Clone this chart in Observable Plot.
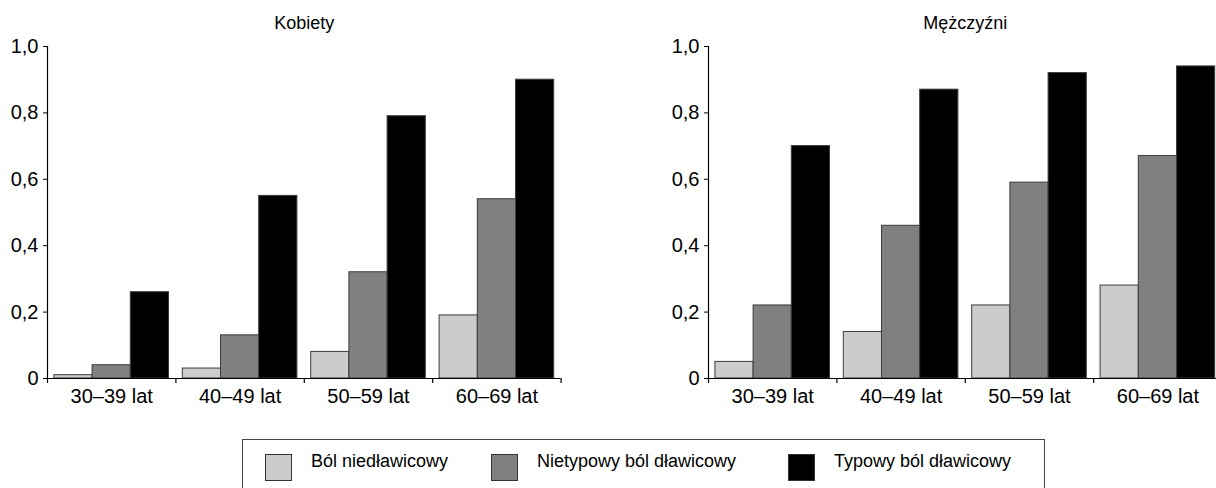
<!DOCTYPE html>
<html><head><meta charset="utf-8">
<script src="https://cdn.jsdelivr.net/npm/d3@7"></script>
<script src="https://cdn.jsdelivr.net/npm/@observablehq/plot@0.6"></script>
<style>
  html,body{margin:0;padding:0;background:#fff;}
  body{width:1216px;height:488px;overflow:hidden;position:relative;
       font-family:"Liberation Sans",Arial,sans-serif;}
  .panel{position:absolute;top:0;width:600px;}
  .panel svg{max-width:none !important;}
  #legend{position:absolute;left:242px;top:439px;width:803px;height:70px;box-sizing:border-box;
          border:1.5px solid #444;display:flex;align-items:flex-start;padding-left:22px;padding-top:14px;}
  .item{display:flex;align-items:flex-start;flex-shrink:0;white-space:nowrap;}
  .sw{width:25px;height:25px;border:1px solid #333;margin-right:19px;flex-shrink:0;}
  .lab{font-size:18px;color:#000;margin-top:-3px;}
</style></head><body>
<div id="left" class="panel" style="left:0px"></div>
<div id="right" class="panel" style="left:661px"></div>
<div id="legend"></div>
<script>
// ---- data ----
const ages = ["30–39 lat", "40–49 lat", "50–59 lat", "60–69 lat"];
const series = ["Ból niedławicowy", "Nietypowy ból dławicowy", "Typowy ból dławicowy"];
const colors = ["#cccccc", "#808080", "#000000"];
const yTicks = [0, 0.2, 0.4, 0.6, 0.8, 1.0];
const panelTitles = ["Kobiety", "Mężczyźni"];

const kobietyNiedlawicowy = [0.01, 0.03, 0.08, 0.19];
const kobietyNietypowy    = [0.04, 0.13, 0.32, 0.54];
const kobietyTypowy       = [0.26, 0.55, 0.79, 0.90];

const mezczyzniNiedlawicowy = [0.05, 0.14, 0.22, 0.28];
const mezczyzniNietypowy    = [0.22, 0.46, 0.59, 0.67];
const mezczyzniTypowy       = [0.70, 0.87, 0.92, 0.94];

// ---- layout ----
const W = 600, H = 420, ML = 47, MT = 46, MB = 42;
const STEP = 128.4;
const MR = W - ML - ages.length * STEP;
const BW = 38.2;
const GAP = (STEP - 3 * BW) / 2;
const FONT = '"Liberation Sans",Arial,sans-serif';
const legendItemWidths = ["226px", "297px", "auto"];

const fmt = d => d === 0 ? "0" : d.toFixed(1).replace(".", ",");

function panel(title, vals) {
  const data = ages.flatMap((a, i) => series.map((s, j) => ({age: a, series: s, value: vals[j][i]})));
  return Plot.plot({
    width: W, height: H,
    marginLeft: ML, marginRight: MR, marginTop: MT, marginBottom: MB,
    style: {fontFamily: FONT, fontSize: "20px", color: "#000", background: "transparent", overflow: "visible"},
    x: {domain: ages, padding: 0, round: false, label: null},
    y: {domain: [0, 1], label: null},
    marks: [
      ...series.map((s, j) => Plot.barY(data.filter(d => d.series === s), {
        x: "age", y: "value", fill: colors[j], stroke: "#3c3c3c", strokeWidth: 1,
        insetLeft: GAP + j * BW, insetRight: GAP + (2 - j) * BW
      })),
      Plot.ruleY([0], {stroke: "#000", strokeWidth: 1.2}),
      Plot.ruleX([ages[0]], {x: d => d, y1: 0, y2: 1, dx: -STEP / 2, stroke: "#000", strokeWidth: 1.2}),
      Plot.ruleX(ages, {x: d => d, y1: 0, y2: 0, insetBottom: -5, dx: -STEP / 2, stroke: "#000", strokeWidth: 1.2}),
      Plot.ruleX([ages[ages.length - 1]], {x: d => d, y1: 0, y2: 0, insetBottom: -5, dx: STEP / 2, stroke: "#000", strokeWidth: 1.2}),
      Plot.axisY({ticks: yTicks, tickFormat: fmt, tickSize: 4, tickPadding: 5, fontSize: 20, label: null}),
      Plot.axisX({tickSize: 0, tickPadding: 10, fontSize: 20, label: null}),
      Plot.text([title], {frameAnchor: "top", lineAnchor: "middle", dy: -23, fontSize: 18, fill: "#000"})
    ]
  });
}

document.getElementById("left").appendChild(
  panel(panelTitles[0], [kobietyNiedlawicowy, kobietyNietypowy, kobietyTypowy]));
document.getElementById("right").appendChild(
  panel(panelTitles[1], [mezczyzniNiedlawicowy, mezczyzniNietypowy, mezczyzniTypowy]));

// ---- legend ----
const lg = document.getElementById("legend");
series.forEach((s, j) => {
  const it = document.createElement("div"); it.className = "item"; it.style.width = legendItemWidths[j];
  const sw = document.createElement("div"); sw.className = "sw"; sw.style.background = colors[j];
  const lb = document.createElement("div"); lb.className = "lab"; lb.textContent = s;
  it.appendChild(sw); it.appendChild(lb); lg.appendChild(it);
});
</script>
</body></html>
